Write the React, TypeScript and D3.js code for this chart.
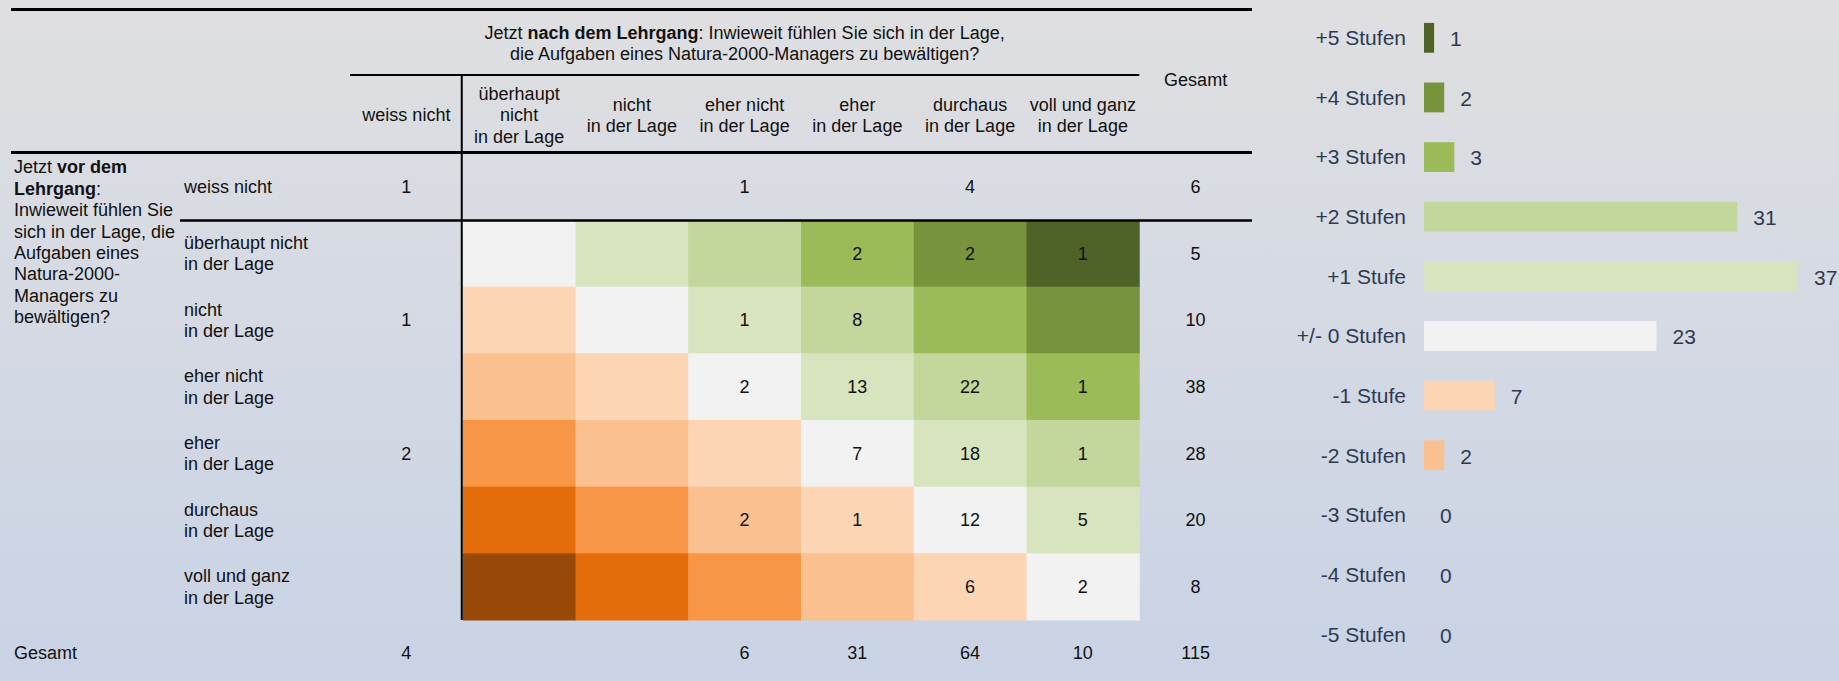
import { useEffect, useRef } from 'react';
import * as d3 from 'd3';

// after-course answer categories (columns), before-course categories (rows)
const columnHeaders = [
    ["überhaupt", "nicht", "in der Lage"],
    ["nicht", "in der Lage"],
    ["eher nicht", "in der Lage"],
    ["eher", "in der Lage"],
    ["durchaus", "in der Lage"],
    ["voll und ganz", "in der Lage"]
];
const rowLabels = [
    ["überhaupt nicht", "in der Lage"],
    ["nicht", "in der Lage"],
    ["eher nicht", "in der Lage"],
    ["eher", "in der Lage"],
    ["durchaus", "in der Lage"],
    ["voll und ganz", "in der Lage"]
];

// counts, rows = before, cols = after
const matrixValues: (number | null)[][] = [
    [null, null, null, 2, 2, 1],
    [null, null, 1, 8, null, null],
    [null, null, 2, 13, 22, 1],
    [null, null, null, 7, 18, 1],
    [null, null, 2, 1, 12, 5],
    [null, null, null, null, 6, 2]
];
const weissNichtAfter: (number | null)[] = [null, 1, null, 2, null, null];
const rowTotals = [5, 10, 38, 28, 20, 8];
const weissNichtBefore: (number | null)[] = [null, null, 1, null, 4, null];
const weissNichtBoth = 1;
const weissNichtBeforeTotal = 6;
const colTotals: (number | null)[] = [null, null, 6, 31, 64, 10];
const weissNichtAfterTotal = 4;
const grandTotal = 115;

// change in steps -> colour
const diffColors: { [k: string]: string } = {
    "5": "#4F6228", "4": "#77933C", "3": "#9BBB59", "2": "#C3D69B", "1": "#D7E4BD",
    "0": "#F2F2F2",
    "-1": "#FCD5B5", "-2": "#FAC090", "-3": "#F79646", "-4": "#E46C0A", "-5": "#984807"
};

// bar chart: shift in steps
const stepLabels = ["+5 Stufen", "+4 Stufen", "+3 Stufen", "+2 Stufen", "+1 Stufe", "+/- 0 Stufen",
    "-1 Stufe", "-2 Stufen", "-3 Stufen", "-4 Stufen", "-5 Stufen"];
const stepValues = [1, 2, 3, 31, 37, 23, 7, 2, 0, 0, 0];
const stepDiffs = [5, 4, 3, 2, 1, 0, -1, -2, -3, -4, -5];

export default function App() {
    const ref = useRef<SVGSVGElement>(null);

    useEffect(() => {
        document.body.style.margin = "0";
        const width = 1839;
        const height = 681;
        const font = "'Liberation Sans', Arial, sans-serif";
        const fs = 18;
        const lh = 21.4;
        const textColor = "#111111";

        const svg = d3.select(ref.current);
        svg.selectAll("*").remove();

        // background gradient
        const defs = svg.append("defs");
        const grad = defs.append("linearGradient")
            .attr("id", "bg")
            .attr("x1", 0).attr("y1", 0).attr("x2", 0).attr("y2", 1);
        grad.append("stop").attr("offset", "0%").attr("stop-color", "#DFDFE1");
        grad.append("stop").attr("offset", "100%").attr("stop-color", "#C9D3E5");
        svg.append("rect")
            .attr("width", width).attr("height", height)
            .attr("fill", "url(#bg)");

        const g = svg.append("g")
            .style("font-family", font)
            .style("font-size", fs + "px")
            .attr("fill", textColor);

        // scales
        const colKeys = ["wn", "0", "1", "2", "3", "4", "5", "total"];
        const x = d3.scaleBand<string>().domain(colKeys).range([350, 1252]);
        const cx = (k: string) => (x(k) as number) + x.bandwidth() / 2;
        const y = d3.scaleBand<string>().domain(d3.range(6).map(String)).range([220, 620]);
        const cy = (i: number) => (y(String(i)) as number) + y.bandwidth() / 2;

        // helper for multi-line text, vertically centred
        function multiline(sel: any, lines: string[], xPos: number, yCenter: number, anchor: string) {
            const t = sel.append("text")
                .attr("text-anchor", anchor)
                .attr("x", xPos);
            lines.forEach(function(line, i) {
                t.append("tspan")
                    .attr("x", xPos)
                    .attr("y", yCenter + (i - (lines.length - 1) / 2) * lh)
                    .attr("dy", "0.35em")
                    .text(line);
            });
        }

        // cells
        const cells: { r: number, c: number, v: number | null }[] = [];
        matrixValues.forEach(function(row, r) {
            row.forEach(function(v, c) {
                cells.push({ r: r, c: c, v: v });
            });
        });
        g.selectAll(".cell")
            .data(cells).enter()
            .append("rect")
            .attr("class", "cell")
            .attr("x", d => x(String(d.c)) as number)
            .attr("y", d => y(String(d.r)) as number)
            .attr("width", x.bandwidth() + 0.5)
            .attr("height", y.bandwidth() + 0.5)
            .attr("fill", d => diffColors[String(d.c - d.r)]);

        g.selectAll(".cell-label")
            .data(cells.filter(d => d.v !== null)).enter()
            .append("text")
            .attr("class", "cell-label")
            .attr("text-anchor", "middle")
            .attr("x", d => cx(String(d.c)))
            .attr("y", d => cy(d.r))
            .attr("dy", "0.35em")
            .text(d => String(d.v));

        // row labels and side columns
        rowLabels.forEach(function(lines, r) {
            multiline(g, lines, 184, cy(r), "start");
            g.append("text").attr("text-anchor", "middle")
                .attr("x", cx("total")).attr("y", cy(r)).attr("dy", "0.35em")
                .text(rowTotals[r]);
            if (weissNichtAfter[r] !== null) {
                g.append("text").attr("text-anchor", "middle")
                    .attr("x", cx("wn")).attr("y", cy(r)).attr("dy", "0.35em")
                    .text(String(weissNichtAfter[r]));
            }
        });

        // header: title
        const titleX = ((x("wn") as number) + (x("total") as number)) / 2;
        const t1 = g.append("text").attr("text-anchor", "middle")
            .attr("x", titleX).attr("y", 33).attr("dy", "0.35em");
        t1.append("tspan").text("Jetzt ");
        t1.append("tspan").attr("font-weight", "bold").text("nach dem Lehrgang");
        t1.append("tspan").text(": Inwieweit fühlen Sie sich in der Lage,");
        g.append("text").attr("text-anchor", "middle")
            .attr("x", titleX).attr("y", 54).attr("dy", "0.35em")
            .text("die Aufgaben eines Natura-2000-Managers zu bewältigen?");

        // column headers
        multiline(g, ["weiss nicht"], cx("wn"), 115, "middle");
        columnHeaders.forEach(function(lines, c) {
            multiline(g, lines, cx(String(c)), 115, "middle");
        });
        g.append("text").attr("text-anchor", "middle")
            .attr("x", cx("total")).attr("y", 80).attr("dy", "0.35em")
            .text("Gesamt");

        // "weiss nicht" before row
        const wnY = 187;
        g.append("text").attr("x", 184).attr("y", wnY).attr("dy", "0.35em").text("weiss nicht");
        g.append("text").attr("text-anchor", "middle")
            .attr("x", cx("wn")).attr("y", wnY).attr("dy", "0.35em").text(weissNichtBoth);
        weissNichtBefore.forEach(function(v, c) {
            if (v === null) return;
            g.append("text").attr("text-anchor", "middle")
                .attr("x", cx(String(c))).attr("y", wnY).attr("dy", "0.35em").text(v);
        });
        g.append("text").attr("text-anchor", "middle")
            .attr("x", cx("total")).attr("y", wnY).attr("dy", "0.35em").text(weissNichtBeforeTotal);

        // left question label
        const leftLines: [string, boolean][][] = [
            [["Jetzt ", false], ["vor dem", true]],
            [["Lehrgang", true], [":", false]],
            [["Inwieweit fühlen Sie", false]],
            [["sich in der Lage, die", false]],
            [["Aufgaben eines", false]],
            [["Natura-2000-", false]],
            [["Managers zu", false]],
            [["bewältigen?", false]]
        ];
        leftLines.forEach(function(parts, i) {
            const t = g.append("text").attr("x", 14).attr("y", 167 + i * lh).attr("dy", "0.35em");
            parts.forEach(function(p) {
                t.append("tspan").attr("font-weight", p[1] ? "bold" : "normal").text(p[0]);
            });
        });

        // totals row
        const totY = 653;
        g.append("text").attr("x", 14).attr("y", totY).attr("dy", "0.35em").text("Gesamt");
        g.append("text").attr("text-anchor", "middle")
            .attr("x", cx("wn")).attr("y", totY).attr("dy", "0.35em").text(weissNichtAfterTotal);
        colTotals.forEach(function(v, c) {
            if (v === null) return;
            g.append("text").attr("text-anchor", "middle")
                .attr("x", cx(String(c))).attr("y", totY).attr("dy", "0.35em").text(v);
        });
        g.append("text").attr("text-anchor", "middle")
            .attr("x", cx("total")).attr("y", totY).attr("dy", "0.35em").text(grandTotal);

        // rules
        const line = (x1: number, y1: number, x2: number, y2: number, w: number) =>
            g.append("line")
                .attr("x1", x1).attr("y1", y1).attr("x2", x2).attr("y2", y2)
                .attr("stroke", "#000").attr("stroke-width", w);
        line(11, 9.5, 1252, 9.5, 3);
        line(x("wn") as number, 75, x("total") as number, 75, 2);
        line(11, 152.5, 1252, 152.5, 3);
        line(180, 220.5, 1252, 220.5, 2.5);
        line((x("0") as number) - 1, 75, (x("0") as number) - 1, 620, 2);

        // bar chart
        const barY = d3.scaleBand<string>()
            .domain(stepLabels)
            .range([8, 664])
            .paddingInner(0.5)
            .paddingOuter(0.25);
        const barX = d3.scaleLinear().domain([0, 37]).range([1424, 1798]);
        const barText = "#2E3A52";

        const bars = svg.append("g")
            .style("font-family", font)
            .style("font-size", "21px")
            .attr("fill", barText);

        bars.selectAll(".bar")
            .data(stepLabels).enter()
            .append("rect")
            .attr("class", "bar")
            .attr("x", barX(0))
            .attr("y", d => barY(d) as number)
            .attr("width", (d, i) => barX(stepValues[i]) - barX(0))
            .attr("height", barY.bandwidth())
            .attr("fill", (d, i) => diffColors[String(stepDiffs[i])]);

        bars.selectAll(".bar-label")
            .data(stepLabels).enter()
            .append("text")
            .attr("class", "bar-label")
            .attr("text-anchor", "end")
            .attr("x", 1406)
            .attr("y", d => (barY(d) as number) + barY.bandwidth() / 2)
            .attr("dy", "0.35em")
            .text(d => d);

        bars.selectAll(".bar-value")
            .data(stepLabels).enter()
            .append("text")
            .attr("class", "bar-value")
            .attr("x", (d, i) => barX(stepValues[i]) + 16)
            .attr("y", d => (barY(d) as number) + barY.bandwidth() / 2 + 1)
            .attr("dy", "0.35em")
            .text((d, i) => stepValues[i]);
    }, []);

    return (
        <svg ref={ref} width={1839} height={681} style={{ display: "block" }} />
    );
}
